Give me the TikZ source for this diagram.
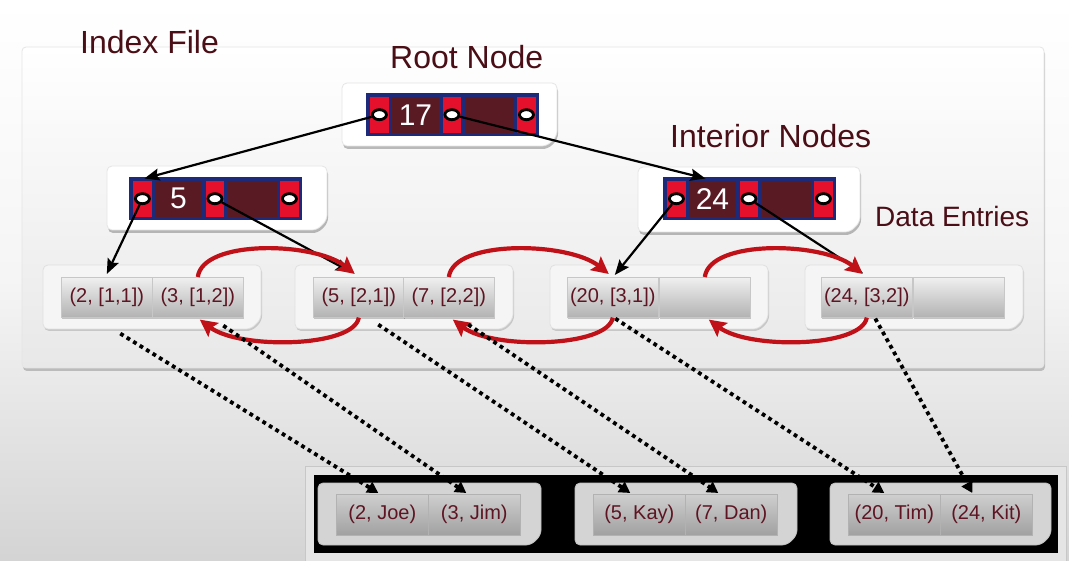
\documentclass[tikz,border=0pt]{standalone}
\usepackage{fontspec}
\setmainfont{Liberation Sans}
\usetikzlibrary{arrows.meta,shadows,shapes.geometric,calc}

\definecolor{txt}{HTML}{4A0E16}
\definecolor{etxt}{HTML}{5E1422}
\definecolor{navy}{HTML}{1D2A7A}
\definecolor{pred}{HTML}{E5102C}
\definecolor{keyc}{HTML}{5A1A24}
\definecolor{arrred}{HTML}{C01018}

\newcommand{\mycard}[5]{\path[#1] (#2,#3) -- (#4,#3) -- (#4,#5-10) -- (#4-10,#5) -- (#2,#5) -- cycle;}
\newcommand{\mytile}[4]{%
  \node[tilebox] (#1) at (#2,#3) {};
  \node[redcell] (#1r1) at (#2+4,#3+3.5) {};
  \node[keycell, minimum width=47.5pt] (#1k) at (#2+25.5,#3+3.5) {#4};
  \node[redcell] (#1r2) at (#2+76.5,#3+3.5) {};
  \node[keycell, minimum width=48.5pt] (#1e) at (#2+99,#3+3.5) {};
  \node[redcell] (#1r3) at (#2+151,#3+3.5) {};
  \node[ptr] (#1p1) at (#1r1.center) {};
  \node[ptr] (#1p2) at (#1r2.center) {};
  \node[ptr] (#1p3) at (#1r3.center) {};
}

\tikzset{
  heading/.style={font=\fontsize{32}{36}\selectfont, text=txt, inner sep=0pt, anchor=base west},
  cardstyle/.style={fill=white, draw=black!10, line width=0.8pt, rounded corners=5pt,
     drop shadow={shadow xshift=1pt, shadow yshift=-3pt, opacity=0.25, fill=black}},
  leafcard/.style={fill=black!4, draw=black!12, line width=0.8pt, rounded corners=5pt,
     drop shadow={shadow xshift=1pt, shadow yshift=-2pt, opacity=0.15, fill=black}},
  pagecard/.style={fill=black!17, draw=black!25, line width=0.8pt, rounded corners=5pt},
  entry/.style={draw=black!22, line width=0.6pt, top color=black!6, bottom color=black!30,
     minimum width=91pt, minimum height=40pt, inner sep=0pt, anchor=north west,
     font=\fontsize{20}{24}\selectfont, text=etxt,
     drop shadow={shadow xshift=0.5pt, shadow yshift=-2pt, opacity=0.2, fill=black}},
  pentry/.style={draw=black!30, line width=0.6pt, top color=black!19, bottom color=black!37,
     minimum width=92pt, minimum height=41pt, inner sep=0pt, anchor=north west,
     font=\fontsize{20}{24}\selectfont, text=etxt},
  tilebox/.style={fill=navy, minimum width=173pt, minimum height=43pt, inner sep=0pt, anchor=north west},
  redcell/.style={fill=pred, minimum width=18.5pt, minimum height=36pt, inner sep=0pt, anchor=north west},
  keycell/.style={fill=keyc, minimum height=36pt, inner sep=0pt, anchor=north west,
     font=\fontsize{30}{34}\selectfont, text=white},
  ptr/.style={ellipse, draw=black, line width=2.8pt, fill=white, minimum width=14pt, minimum height=10pt, inner sep=0pt},
  treearrow/.style={draw=black, line width=2.2pt, -{Stealth[length=15pt,width=12pt,inset=2.5pt]}},
  nextarrow/.style={draw=arrred, line width=4.2pt, -{Stealth[length=17pt,width=17pt,inset=3pt]}},
  dotarrow/.style={draw=black, line width=3.8pt, dash pattern=on 3.8pt off 3.8pt, -{Triangle[length=11pt,width=12pt]}},
}

\begin{document}
\begin{tikzpicture}[x=1pt,y=-1pt]
\useasboundingbox (0,0) rectangle (1069,561);
% background
\path[top color=white, bottom color=black!17, middle color=black!4] (0,0) rectangle (1069,561);
% index file panel
\path[top color=white, bottom color=black!9, draw=black!10, line width=0.8pt, rounded corners=4pt,
  drop shadow={shadow xshift=1pt, shadow yshift=-3pt, opacity=0.2, fill=black}] (22,47) rectangle (1044,368);

% labels
\node[heading] (lblIndex) at (80,54) {Index File};
\node[heading] (lblRoot) at (390,69) {Root Node};
\node[heading] (lblInt) at (670,148) {Interior Nodes};
\node[heading, font=\fontsize{28}{32}\selectfont] (lblData) at (875,227) {Data Entries};

% tree cards
\mycard{cardstyle}{342}{83}{557}{146}
\mycard{cardstyle}{107}{166}{327}{230}
\mycard{cardstyle}{638}{167}{860}{232}

% tiles
\mytile{R}{366}{93}{17}
\mytile{A}{129}{177}{5}
\mytile{B}{663}{177}{24}

% leaf cards
\mycard{leafcard}{43}{265}{261}{329}
\mycard{leafcard}{295}{265}{513}{329}
\mycard{leafcard}{550}{265}{768}{329}
\mycard{leafcard}{805}{265}{1023}{329}

% leaf entries
\node[entry] (L1a) at (61,277) {(2, [1,1])};
\node[entry] (L1b) at (152,277) {(3, [1,2])};
\node[entry] (L2a) at (313,277) {(5, [2,1])};
\node[entry] (L2b) at (403,277) {(7, [2,2])};
\node[entry] (L3a) at (567,277) {(20, [3,1])};
\node[entry] (L3b) at (659,277) {};
\node[entry] (L4a) at (821,277) {(24, [3,2])};
\node[entry] (L4b) at (913,277) {};

% data pages
\path[fill=black!10, draw=black!22, line width=1pt] (305,466) rectangle (1066,561);
\path[fill=black] (314,475) rectangle (1058,553);
\mycard{pagecard}{318}{483}{541}{545}
\mycard{pagecard}{575}{483}{797}{545}
\mycard{pagecard}{830}{483}{1051}{545}
\node[pentry] (D1a) at (336,494) {(2, Joe)};
\node[pentry] (D1b) at (428,494) {(3, Jim)};
\node[pentry] (D2a) at (593,494) {(5, Kay)};
\node[pentry] (D2b) at (685,494) {(7, Dan)};
\node[pentry] (D3a) at (848,494) {(20, Tim)};
\node[pentry] (D3b) at (940,494) {(24, Kit)};

% tree pointers
\draw[treearrow] (Rp1) -- ([shift={(2,-2)}]Ar1.north);
\draw[treearrow] (Rp2) -- ([shift={(-7,-2)}]Bk.north);
\draw[treearrow] (Ap1) -- ([shift={(0,-3)}]L1a.north);
\draw[treearrow] (Ap2) -- ([shift={(-8,-5)}]L2a.north);
\draw[treearrow] (Bp1) -- ([shift={(2,-2)}]L3a.north);
\draw[treearrow] (Bp2) -- ([shift={(-4,-4)}]L4a.north);

% sibling pointers
\draw[nextarrow] (L1b.north) .. controls +(5,-38) and +(-40,-32) .. ([shift={(-4,-3)}]L2a.north);
\draw[nextarrow] (L2a.south) .. controls +(-5,30) and +(40,30) .. ([shift={(2,2)}]L1b.south);
\draw[nextarrow] (L2b.north) .. controls +(5,-38) and +(-40,-32) .. ([shift={(-4,-3)}]L3a.north);
\draw[nextarrow] (L3a.south) .. controls +(-5,30) and +(40,30) .. ([shift={(4,2)}]L2b.south);
\draw[nextarrow] (L3b.north) .. controls +(5,-38) and +(-40,-32) .. ([shift={(-4,-3)}]L4a.north);
\draw[nextarrow] (L4a.south) .. controls +(-5,30) and +(40,30) .. ([shift={(4,2)}]L3b.south);

% record pointers
\draw[dotarrow] ([shift={(13.5,16)}]L1a.south) -- ([shift={(-4,-1)}]D1a.north);
\draw[dotarrow] ([shift={(25.5,8)}]L1b.south) -- ([shift={(-8,-1)}]D1b.north);
\draw[dotarrow] ([shift={(19.5,7)}]L2a.south) -- ([shift={(-9,-1)}]D2a.north);
\draw[dotarrow] ([shift={(19.5,7)}]L2b.south) -- ([shift={(-13,-1)}]D2b.north);
\draw[dotarrow] ([shift={(2.5,1)}]L3a.south) -- ([shift={(-10,-1)}]D3a.north);
\draw[dotarrow] ([shift={(8.5,1)}]L4a.south) -- ([shift={(-14,-1)}]D3b.north);
\end{tikzpicture}
\end{document}
